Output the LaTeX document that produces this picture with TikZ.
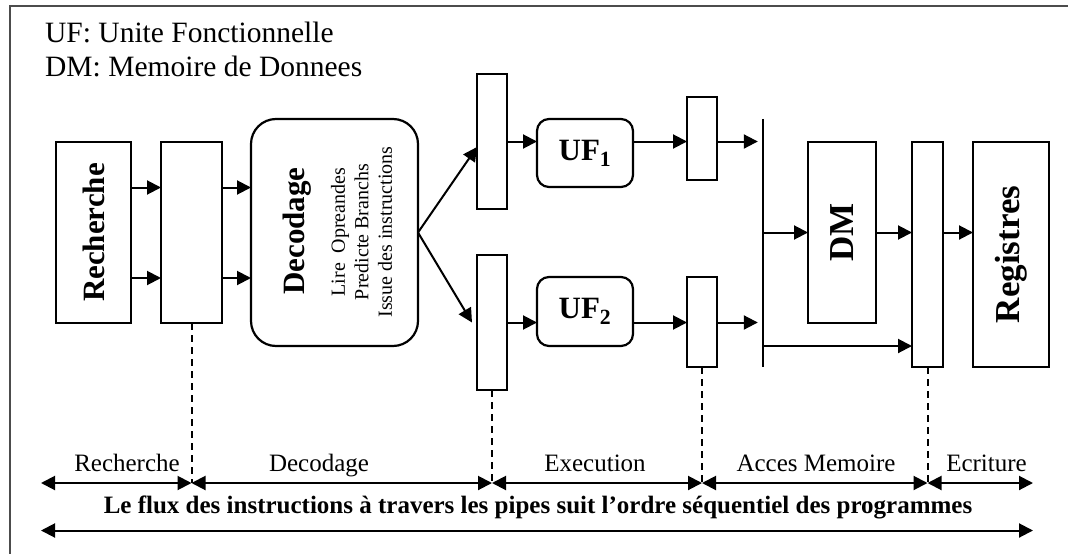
\documentclass[tikz,border=0pt]{standalone}
\usepackage{fontspec}
\setmainfont{Liberation Serif}
\usetikzlibrary{arrows.meta,calc}
\newcommand\setfs[2]{\fontsize{#1}{#2}\selectfont}
\begin{document}
\begin{tikzpicture}[x=1pt,y=-1pt,
  box/.style={draw, line width=2.2pt, inner sep=0pt, outer sep=0pt},
  rbox/.style={box, rounded corners=#1},
  rbox/.default=12pt,
  arr/.style={line width=2pt, -{Triangle[length=14pt,width=14pt]}},
  darr/.style={line width=2pt, {Triangle[length=14pt,width=14pt]}-{Triangle[length=14pt,width=14pt]}},
  dashline/.style={line width=2pt, dash pattern=on 7pt off 5pt},
  frame/.style={draw=black!70, line width=2pt},
  lbl/.style={anchor=base, inner sep=0pt, font=\setfs{25}{30}},
  hdr/.style={anchor=base west, inner sep=0pt, font=\setfs{29.5}{34}}
]
\useasboundingbox (0,0) rectangle (1068,554);
\draw[frame] (1068,6) -- (10,6) -- (10,554);

% header
\node[hdr] (h1) at (45,42.7) {UF: Unite Fonctionnelle};
\node[hdr] (h2) at (45,76.5) {DM: Memoire de Donnees};

% boxes
\node[box, minimum width=75pt, minimum height=181pt] (rech) at (93.5,232.5) {};
\node[rotate=90, font=\bfseries\setfs{31}{34}] (rechtxt) at (93.5,232.5) {Recherche};
\node[box, minimum width=61pt, minimum height=181pt] (reg1) at (191.5,232.5) {};
\node[rbox=25pt, minimum width=167pt, minimum height=227pt] (dec) at (334.5,232.5) {};
\node[rotate=90, font=\bfseries\setfs{31}{34}] (dectitle) at (297,231) {Decodage};
\node[rotate=90, align=center, font=\setfs{20}{23.5}] (decops) at (361.5,232)
  {Lire \ Opreandes\\Predicte Branchs\\Issue des instructions};

\node[box, minimum width=30pt, minimum height=135pt] (reg2a) at (492,141.5) {};
\node[box, minimum width=30pt, minimum height=135pt] (reg2b) at (492,322.5) {};
\node[rbox, minimum width=96pt, minimum height=68pt, font=\bfseries\setfs{31}{34}] (uf1) at (585,153) {UF\textsubscript{1}};
\node[rbox, minimum width=96pt, minimum height=69pt, font=\bfseries\setfs{31}{34}] (uf2) at (585,311.5) {UF\textsubscript{2}};
\node[box, minimum width=30pt, minimum height=83pt] (reg3a) at (702,138.5) {};
\node[box, minimum width=30pt, minimum height=90pt] (reg3b) at (702,322) {};

\node[inner sep=0pt, minimum width=0pt, minimum height=248pt] (bus) at (763,243) {};
\draw[line width=2.2pt] (bus.north) -- (bus.south);

\node[box, minimum width=68pt, minimum height=181pt] (dm) at (842,232.5) {};
\node[rotate=90, font=\bfseries\setfs{35}{38}] (dmtxt) at (842,232.5) {DM};
\node[box, minimum width=31pt, minimum height=225pt] (reg4) at (927.5,254.5) {};
\node[box, minimum width=76pt, minimum height=225pt] (regs) at (1011,254.5) {};
\node[rotate=90, font=\bfseries\setfs{35}{38}] (regstxt) at (1011,254.5) {Registres};

% connectors
\coordinate (r1) at (0,187.5);
\coordinate (r2) at (0,278);
\draw[arr] (rech.east |- r1) -- (reg1.west |- r1);
\draw[arr] (rech.east |- r2) -- (reg1.west |- r2);
\draw[arr] (reg1.east |- r1) -- (dec.west |- r1);
\draw[arr] (reg1.east |- r2) -- (dec.west |- r2);

\draw[arr] (dec.east) -- ($(reg2a.west)+(0,5.5)$);
\draw[arr] (dec.east) -- ($(reg2b.west)+(-5,0)$);

\draw[arr] (reg2a.east) -- (reg2a.east -| uf1.west);
\draw[arr] (reg2a.east -| uf1.east) -- (reg2a.east -| reg3a.west);
\draw[arr, shorten >=5pt] (reg2a.east -| reg3a.east) -- (reg2a.east -| bus.west);
\draw[arr] (reg2b.east) -- (reg2b.east -| uf2.west);
\draw[arr] (reg2b.east -| uf2.east) -- (reg2b.east -| reg3b.west);
\draw[arr, shorten >=5pt] (reg2b.east -| reg3b.east) -- (reg2b.east -| bus.west);

\draw[arr] (bus |- dm.west) -- (dm.west);
\draw[arr] (dm.east) -- (dm.east -| reg4.west);
\draw[arr] (dm.east -| reg4.east) -- (dm.east -| regs.west);
\coordinate (byp) at (763,346);
\draw[arr] (byp) -- (byp -| reg4.west);

% stage boundaries
\coordinate (jL) at (41,483);
\coordinate (j1) at (reg1.south |- jL);
\coordinate (j2) at (reg2b.south |- jL);
\coordinate (j3) at (reg3b.south |- jL);
\coordinate (j4) at (reg4.south |- jL);
\coordinate (jR) at (1033,483);
\draw[dashline] (reg1.south) -- (j1);
\draw[dashline] (reg2b.south) -- (j2);
\draw[dashline] (reg3b.south) -- (j3);
\draw[dashline] (reg4.south) -- (j4);
\draw[darr] (jL) -- (j1);
\draw[darr] (j1) -- (j2);
\draw[darr] (j2) -- (j3);
\draw[darr] (j3) -- (j4);
\draw[darr] (j4) -- (jR);

\node[lbl] (l1) at (127,471) {Recherche};
\node[lbl] (l2) at (319,471) {Decodage};
\node[lbl] (l3) at (595,471) {Execution};
\node[lbl] (l4) at (816,471) {Acces Memoire};
\node[lbl] (l5) at (986.5,471) {Ecriture};

\coordinate (kL) at (41,530.5);
\coordinate (kR) at (1033,530.5);
\draw[darr] (kL) -- (kR);
\node[anchor=base, inner sep=0pt, font=\bfseries\setfs{25}{28}] (flux) at (538,513)
  {Le flux des instructions à travers les pipes suit l’ordre séquentiel des programmes};
\end{tikzpicture}
\end{document}
